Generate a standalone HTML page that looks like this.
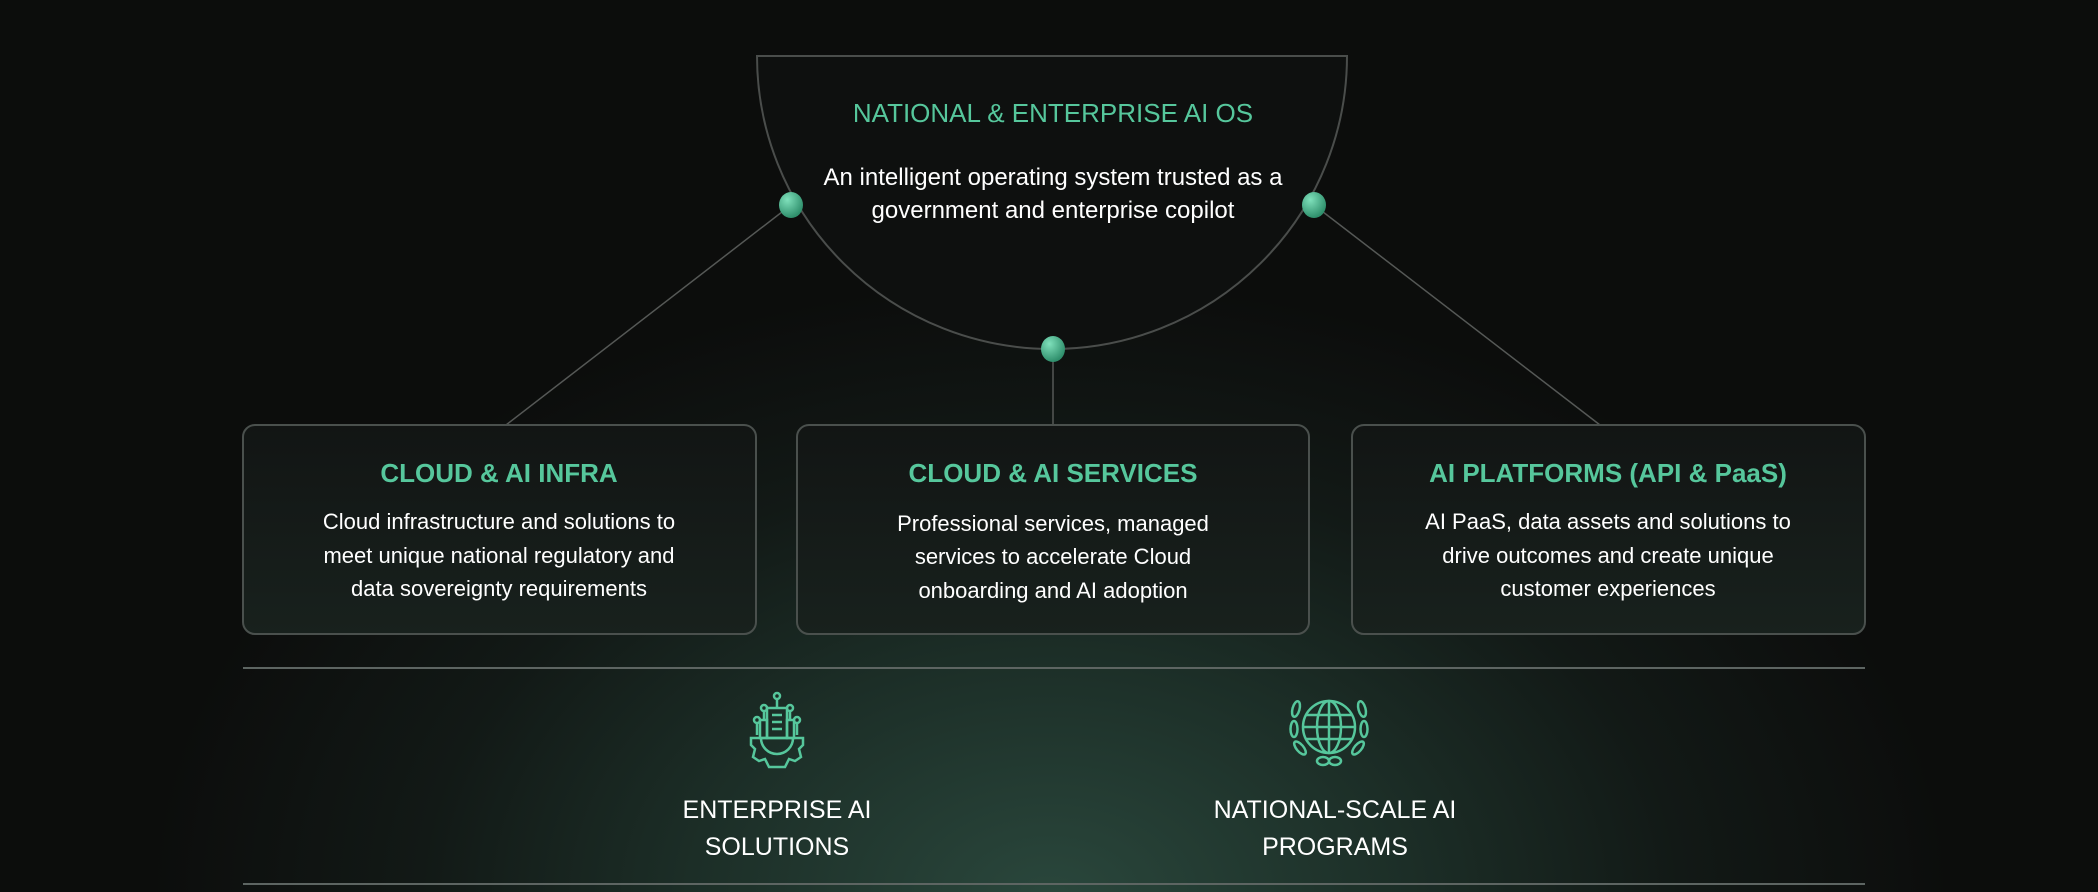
<!DOCTYPE html>
<html><head><meta charset="utf-8"><style>
html,body{margin:0;padding:0}
body{width:2098px;height:892px;overflow:hidden;background:#0c0d0c;font-family:"Liberation Sans",sans-serif;}
.bg{position:absolute;left:0;top:0;width:2098px;height:892px;
background:radial-gradient(ellipse 900px 620px at 1050px 900px,#2a473c 0%,#1c2e27 40%,#121916 70%,#0c0d0c 100%);}
svg{position:absolute;left:0;top:0}
</style></head><body>
<div class="bg"></div>
<svg width="2098" height="892" viewBox="0 0 2098 892">
<defs>
<radialGradient id="dot" cx="35%" cy="30%" r="70%"><stop offset="0" stop-color="#7fe0bb"/><stop offset="1" stop-color="#2f8f6c"/></radialGradient>
<linearGradient id="card" x1="0" y1="0" x2="0" y2="1"><stop offset="0" stop-color="#121514"/><stop offset="1" stop-color="#18211d"/></linearGradient>
</defs>
<!-- semicircle -->
<path d="M757 56 L1347 56 A295 293 0 0 1 757 56 Z" fill="#0e100f" stroke="#4a4d4b" stroke-width="2"/>
<!-- connectors -->
<line x1="791" y1="205" x2="506" y2="425" stroke="#555856" stroke-width="1.5"/>
<line x1="1314" y1="205" x2="1600" y2="425" stroke="#555856" stroke-width="1.5"/>
<line x1="1053" y1="349" x2="1053" y2="425" stroke="#555856" stroke-width="1.5"/>
<ellipse cx="791" cy="205" rx="12" ry="13" fill="url(#dot)"/>
<ellipse cx="1314" cy="205" rx="12" ry="13" fill="url(#dot)"/>
<ellipse cx="1053" cy="349" rx="12" ry="13" fill="url(#dot)"/>
<text x="1053" y="122" text-anchor="middle" fill="#56c79c" font-size="26">NATIONAL &amp; ENTERPRISE AI OS</text>
<text x="1053" y="185" text-anchor="middle" fill="#fff" font-size="24">An intelligent operating system trusted as a</text>
<text x="1053" y="218" text-anchor="middle" fill="#fff" font-size="24">government and enterprise copilot</text>
<!-- cards -->
<g stroke="#4a504d" stroke-width="2" fill="url(#card)">
<rect x="243" y="425" width="513" height="209" rx="12"/>
<rect x="797" y="425" width="512" height="209" rx="12"/>
<rect x="1352" y="425" width="513" height="209" rx="12"/>
</g>
<g text-anchor="middle" font-size="26" font-weight="bold" fill="#56c79c">
<text x="499" y="482">CLOUD &amp; AI INFRA</text>
<text x="1053" y="482">CLOUD &amp; AI  SERVICES</text>
<text x="1608" y="482">AI PLATFORMS (API &amp; PaaS)</text>
</g>
<g text-anchor="middle" font-size="22" fill="#fff">
<text x="499" y="529">Cloud infrastructure and solutions to</text>
<text x="499" y="563">meet unique national regulatory and</text>
<text x="499" y="596">data sovereignty requirements</text>
<text x="1053" y="531">Professional services, managed</text>
<text x="1053" y="564">services to accelerate Cloud</text>
<text x="1053" y="598">onboarding and AI adoption</text>
<text x="1608" y="529">AI PaaS, data assets and solutions to</text>
<text x="1608" y="563">drive outcomes and create unique</text>
<text x="1608" y="596">customer experiences</text>
</g>
<line x1="243" y1="668" x2="1865" y2="668" stroke="#5d6562" stroke-width="2"/>
<line x1="243" y1="884" x2="1865" y2="884" stroke="#5d6562" stroke-width="2"/>
<!-- enterprise icon -->
<g fill="none" stroke="#56c79c" stroke-width="2.5" transform="translate(777,735)">
<rect x="-10" y="-27" width="20" height="30"/>
<line x1="-5" y1="-20" x2="5" y2="-20"/><line x1="-5" y1="-13" x2="5" y2="-13"/><line x1="-5" y1="-6" x2="5" y2="-6"/>
<rect x="-17" y="-15" width="7" height="18"/><rect x="10" y="-15" width="7" height="18"/>
<line x1="0" y1="-27" x2="0" y2="-36"/><circle cx="0" cy="-39" r="3"/>
<path d="M-13 -15 V-24"/><circle cx="-13" cy="-27" r="3"/><path d="M13 -15 V-24"/><circle cx="13" cy="-27" r="3"/>
<path d="M-20 0 V-12"/><circle cx="-20" cy="-15" r="3"/><path d="M20 0 V-12"/><circle cx="20" cy="-15" r="3"/>
<path d="M-26 3 H26 V10 L22 14 L24 22 L18 26 L12 24 L8 32 H-8 L-12 24 L-18 26 L-24 22 L-22 14 L-26 10 Z"/>
<path d="M-16 3 A16 16 0 0 0 16 3"/>
</g>
<!-- globe icon -->
<g fill="none" stroke="#56c79c" stroke-width="2.5" transform="translate(1329,727)">
<circle cx="0" cy="0" r="26"/><ellipse cx="0" cy="0" rx="12" ry="26"/>
<line x1="0" y1="-26" x2="0" y2="26"/><line x1="-26" y1="0" x2="26" y2="0"/>
<line x1="-23" y1="-12" x2="23" y2="-12"/><line x1="-23" y1="12" x2="23" y2="12"/>
<ellipse cx="-33" cy="-18" rx="3.5" ry="8" transform="rotate(15 -33 -18)"/>
<ellipse cx="33" cy="-18" rx="3.5" ry="8" transform="rotate(-15 33 -18)"/>
<ellipse cx="-35" cy="2" rx="3.5" ry="8"/><ellipse cx="35" cy="2" rx="3.5" ry="8"/>
<ellipse cx="-29" cy="21" rx="3.5" ry="8" transform="rotate(-40 -29 21)"/>
<ellipse cx="29" cy="21" rx="3.5" ry="8" transform="rotate(40 29 21)"/>
<ellipse cx="-6" cy="34" rx="6" ry="4"/><ellipse cx="6" cy="34" rx="6" ry="4"/>
</g>
<g text-anchor="middle" font-size="25" fill="#fff">
<text x="777" y="818">ENTERPRISE AI</text>
<text x="777" y="855">SOLUTIONS</text>
<text x="1335" y="818">NATIONAL-SCALE AI</text>
<text x="1335" y="855">PROGRAMS</text>
</g>
</svg>
</body></html>
